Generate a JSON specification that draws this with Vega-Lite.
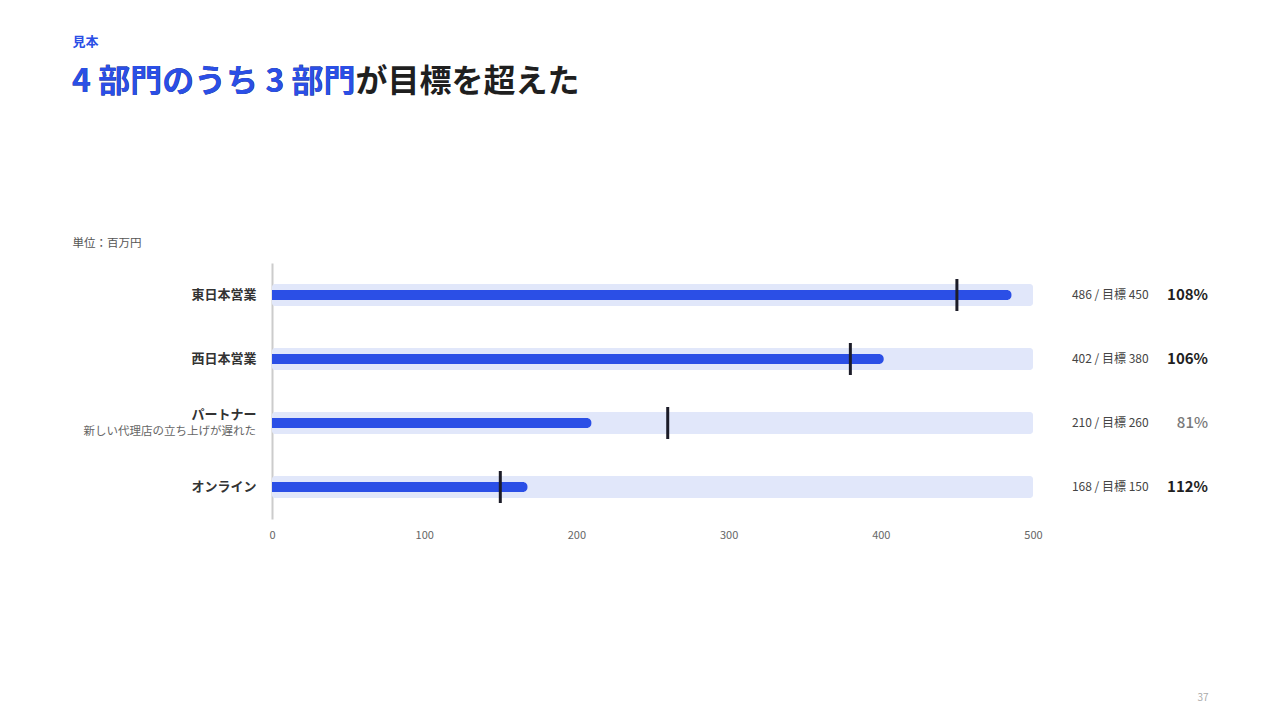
{
  "$schema": "https://vega.github.io/schema/vega-lite/v6.json",
  "autosize": {"type": "none"},
  "width": 761,
  "height": 256,
  "padding": {"left": 272, "top": 263, "right": 247, "bottom": 201},
  "background": "#ffffff",
  "config": {
    "font": "Noto Sans CJK JP",
    "view": {"stroke": null}
  },
  "title": {
    "text": "4 部門のうち 3 部門が目標を超えた",
    "subtitle": "4 部門のうち 3 部門",
    "anchor": "start",
    "frame": "group",
    "orient": "top",
    "dx": -200,
    "dy": 64,
    "offset": 0,
    "font": "Noto Sans CJK JP",
    "fontSize": 32,
    "fontWeight": "bold",
    "color": "#1f1f1f",
    "subtitleFont": "Noto Sans CJK JP",
    "subtitleFontSize": 32,
    "subtitleFontWeight": "bold",
    "subtitleColor": "#2b4fe6",
    "subtitlePadding": -32
  },
  "data": {
    "values": [
      {"name": "東日本営業", "note": "", "value": 486, "target": 450, "label": "486 / 目標 450", "pct": "108%", "met": true},
      {"name": "西日本営業", "note": "", "value": 402, "target": 380, "label": "402 / 目標 380", "pct": "106%", "met": true},
      {"name": "パートナー", "note": "新しい代理店の立ち上げが遅れた", "value": 210, "target": 260, "label": "210 / 目標 260", "pct": "81%", "met": false},
      {"name": "オンライン", "note": "", "value": 168, "target": 150, "label": "168 / 目標 150", "pct": "112%", "met": true}
    ]
  },
  "encoding": {
    "y": {
      "field": "name",
      "type": "nominal",
      "sort": null,
      "scale": {"paddingInner": 0, "paddingOuter": 0},
      "axis": {
        "title": "単位：百万円",
        "titleAngle": 0,
        "titleAlign": "left",
        "titleBaseline": "middle",
        "titleX": -200,
        "titleY": -20,
        "titleFontSize": 11.5,
        "titleFontWeight": "normal",
        "titleColor": "#555555",
        "ticks": false,
        "domain": true,
        "domainColor": "#cccccc",
        "domainWidth": 2,
        "labelPadding": 16,
        "labelFontSize": 13,
        "labelFontWeight": "bold",
        "labelColor": "#333333",
        "labelOffset": {"condition": {"test": "datum.value === 'パートナー'", "value": -8}, "value": 0}
      }
    }
  },
  "resolve": {"axis": {"x": "independent"}},
  "layer": [
    {
      "mark": {"type": "bar", "size": 22, "color": "#e1e7fa", "cornerRadius": 3},
      "encoding": {
        "x": {
          "datum": 0,
          "type": "quantitative",
          "scale": {"domain": [0, 500], "nice": false, "zero": true},
          "axis": {
            "values": [0, 100, 200, 300, 400, 500],
            "title": "37",
            "titleX": 936,
            "titleY": 178,
            "titleAlign": "right",
            "titleBaseline": "middle",
            "titleFontSize": 10,
            "titleFontWeight": "normal",
            "titleColor": "#aaaaaa",
            "grid": false,
            "ticks": false,
            "domain": false,
            "labelFontSize": 11,
            "labelColor": "#666666",
            "labelPadding": 10,
            "labelFlush": false
          }
        },
        "x2": {"datum": 500}
      }
    },
    {
      "mark": {"type": "bar", "size": 10, "color": "#2b4fe6", "cornerRadiusEnd": 5},
      "encoding": {
        "x": {
          "field": "value",
          "type": "quantitative",
          "axis": {
            "orient": "top",
            "title": "見本",
            "titleX": -200,
            "titleY": -222,
            "titleAlign": "left",
            "titleBaseline": "middle",
            "titleFontSize": 13,
            "titleFontWeight": "bold",
            "titleColor": "#2b4fe6",
            "labels": false,
            "ticks": false,
            "domain": false,
            "grid": false
          }
        }
      }
    },
    {
      "mark": {"type": "tick", "orient": "vertical", "size": 32, "thickness": 3, "color": "#1c1c28", "opacity": 1},
      "encoding": {
        "x": {"field": "target", "type": "quantitative", "axis": null}
      }
    },
    {
      "mark": {"type": "text", "align": "right", "baseline": "middle", "fontSize": 12, "color": "#444444"},
      "encoding": {
        "x": {"datum": 576, "type": "quantitative", "axis": null},
        "text": {"field": "label"}
      }
    },
    {
      "transform": [{"filter": "datum.met"}],
      "mark": {"type": "text", "align": "right", "baseline": "middle", "fontSize": 15, "fontWeight": "bold", "color": "#1f1f1f"},
      "encoding": {
        "x": {"datum": 615, "type": "quantitative", "axis": null},
        "text": {"field": "pct"}
      }
    },
    {
      "transform": [{"filter": "!datum.met"}],
      "mark": {"type": "text", "align": "right", "baseline": "middle", "fontSize": 15, "fontWeight": 500, "color": "#7a7a7a"},
      "encoding": {
        "x": {"datum": 615, "type": "quantitative", "axis": null},
        "text": {"field": "pct"}
      }
    },
    {
      "transform": [{"filter": "datum.note !== ''"}],
      "mark": {"type": "text", "align": "right", "baseline": "middle", "fontSize": 11.5, "color": "#666666", "dy": 9},
      "encoding": {
        "x": {"datum": -10.5, "type": "quantitative", "axis": null},
        "text": {"field": "note"}
      }
    }
  ]
}
